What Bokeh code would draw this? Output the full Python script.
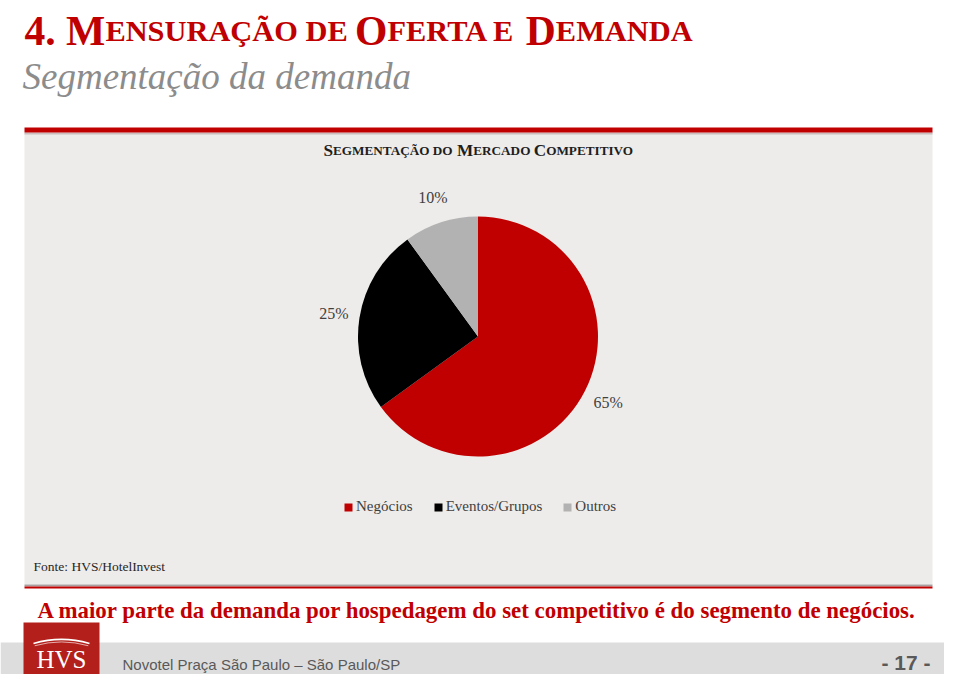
import math
from bokeh.plotting import figure
from bokeh.models import Range1d, ColumnDataSource
from bokeh.core.properties import value
from bokeh.embed import file_html
from bokeh.resources import INLINE

# ---------------- data ----------------
categories = ["Negócios", "Eventos/Grupos", "Outros"]
shares = [65, 25, 10]
slice_colors = ["#C00000", "#000000", "#B2B2B2"]

page_title = "4. Mensuração de Oferta e Demanda"
page_subtitle = "Segmentação da demanda"
chart_title = "Segmentação do Mercado Competitivo"
source_note = "Fonte: HVS/HotelInvest"
conclusion = "A maior parte da demanda por hospedagem do set competitivo é do segmento de negócios."
footer_text = "Novotel Praça São Paulo – São Paulo/SP"
page_number = "- 17 -"
logo_text = "HVS"

# ---------------- helpers ----------------
W, H = 944, 674


def Y(py):
    return 690 - py


# Times/Liberation Serif Bold advance widths (per 1000 em), used to lay out small caps
TB = {' ': 250, '.': 250, '4': 500, 'A': 722, 'C': 722, 'D': 722, 'E': 667, 'F': 611,
      'G': 778, 'I': 389, 'M': 944, 'N': 722, 'O': 778, 'P': 611, 'R': 722, 'S': 556,
      'T': 667, 'U': 722, 'V': 722, 'Ç': 722, 'Ã': 722}


def runs(text):
    out = []
    for ch in text:
        big = not ch.islower() and ch != ' '
        if ch == ' ' and out:
            big = out[-1][1]
        if out and out[-1][1] == big:
            out[-1][0] += ch.upper()
        else:
            out.append([ch.upper(), big])
    return out


def sc_width(text, big, small):
    w = 0
    for s, b in runs(text):
        w += sum(TB.get(c, 600) for c in s) * (big if b else small) / 1000
    return w


def sc_layout(text, x0, big, small):
    xs, ts, fs = [], [], []
    x = x0
    for s, b in runs(text):
        size = big if b else small
        xs.append(x)
        ts.append(s)
        fs.append(f"{size:.1f}px")
        x += sum(TB.get(c, 600) for c in s) * size / 1000
    return xs, ts, fs


p = figure(width=W, height=H, output_backend="svg", toolbar_location=None,
           x_range=Range1d(0, W), y_range=Range1d(690 - H, 690),
           x_axis_location=None, y_axis_location=None, min_border=0)
p.grid.visible = False
p.outline_line_color = None
p.background_fill_color = "white"
p.border_fill_color = "white"

SERIF = value("Liberation Serif")
SANS = value("Liberation Sans")

# ---------------- page title ----------------
ratio = 0.73
target = 668
unit = sc_width(page_title, 1.0 / ratio, 1.0)
small = target / unit
big = small / ratio
xs, ts, fs = sc_layout(page_title, 24, big, small)
p.text(x="x", y="y", text="t", text_font_size="fs",
       source=ColumnDataSource(dict(x=xs, y=[Y(30)] * len(xs), t=ts, fs=fs)),
       text_font=SERIF, text_font_style="bold", text_color="#C00000",
       text_baseline="alphabetic", text_align="left")

p.text(x=[22], y=[Y(76)], text=[page_subtitle], text_font=SERIF,
       text_font_style="italic", text_font_size="37px", text_color="#8C8C8C",
       text_baseline="alphabetic", text_align="left")

# ---------------- chart panel ----------------
p.quad(left=[24], right=[932], top=[Y(132)], bottom=[Y(584)],
       fill_color="#EEECEA", line_color=None)
p.quad(left=[24], right=[932], top=[Y(134)], bottom=[Y(132)],
       fill_color="#CBBDBD", line_color=None)
p.quad(left=[24], right=[932], top=[Y(127)], bottom=[Y(132)],
       fill_color="#C00000", line_color=None)
p.quad(left=[24], right=[932], top=[Y(584)], bottom=[Y(586)],
       fill_color="#A8A0A0", line_color=None)
p.quad(left=[24], right=[932], top=[Y(586)], bottom=[Y(588)],
       fill_color="#C00000", line_color=None)

# chart title in small caps, centred
ratio2 = 0.77
tw = 310
unit2 = sc_width(chart_title, 1.0 / ratio2, 1.0)
small2 = tw / unit2
big2 = small2 / ratio2
xs2, ts2, fs2 = sc_layout(chart_title, 478 - tw / 2, big2, small2)
p.text(x="x", y="y", text="t", text_font_size="fs",
       source=ColumnDataSource(dict(x=xs2, y=[Y(150)] * len(xs2), t=ts2, fs=fs2)),
       text_font=SERIF, text_font_style="bold", text_color="#1E1E1E",
       text_baseline="alphabetic", text_align="left")

# ---------------- pie ----------------
cx, cy, R = 477.5, Y(336), 120
starts, ends, mids = [], [], []
cum = 90.0
for s in shares:
    a = s / sum(shares) * 360.0
    ends.append(math.radians(cum))
    starts.append(math.radians(cum - a))
    mids.append(math.radians(cum - a / 2))
    cum -= a

pie_src = ColumnDataSource(dict(cat=categories, start=starts, end=ends,
                                color=slice_colors))
p.wedge(x=cx, y=cy, radius=R, start_angle="start", end_angle="end",
        direction="anticlock", fill_color="color", line_color=None,
        source=pie_src, legend_field="cat")

rl = R + 26
lab_src = ColumnDataSource(dict(
    x=[cx + rl * math.cos(m) for m in mids],
    y=[cy + rl * math.sin(m) for m in mids],
    t=[f"{s}%" for s in shares]))
p.text(x="x", y="y", text="t", source=lab_src, text_font=SERIF,
       text_font_size="16px", text_color="#404040",
       text_align="center", text_baseline="middle")

lg = p.legend[0]
lg.location = (343, 690 - 515 - (690 - H))
lg.orientation = "horizontal"
lg.padding = 0
lg.margin = 0
lg.spacing = 20
lg.glyph_width = 10
lg.glyph_height = 10
lg.label_standoff = 3
lg.label_height = 16
lg.label_text_font = "Liberation Serif"
lg.label_text_font_size = "15px"
lg.label_text_color = "#404040"
lg.background_fill_alpha = 0
lg.border_line_color = None

# source note
p.text(x=[33], y=[Y(566)], text=[source_note], text_font=SERIF,
       text_font_size="13.5px", text_color="#262626",
       text_baseline="alphabetic", text_align="left")

# conclusion
p.text(x=[37], y=[Y(610)], text=[conclusion], text_font=SERIF,
       text_font_style="bold", text_font_size="22.9px", text_color="#C00000",
       text_baseline="alphabetic", text_align="left")

# ---------------- footer ----------------
p.quad(left=[0], right=[960], top=[Y(642)], bottom=[Y(700)],
       fill_color="#DDDDDD", line_color=None)
p.quad(left=[23], right=[99], top=[Y(622)], bottom=[Y(700)],
       fill_color="#B3201B", line_color=None)
p.text(x=[61], y=[Y(659)], text=[logo_text], text_font=SERIF,
       text_font_size="25px", text_color="white",
       text_baseline="alphabetic", text_align="center")
half = math.asin(28 / 100)
p.arc(x=[61], y=[Y(739)], radius=100, start_angle=math.pi / 2 - half,
      end_angle=math.pi / 2 + half, line_color="white", line_width=1.6)
p.arc(x=[61], y=[Y(739)], radius=97.5, start_angle=math.pi / 2 - half * 0.98,
      end_angle=math.pi / 2 + half * 0.98, line_color="white", line_width=0.8,
      line_alpha=0.8)

p.text(x=[122], y=[Y(664)], text=[footer_text], text_font=SANS,
       text_font_size="15px", text_color="#595959",
       text_baseline="alphabetic", text_align="left")
p.text(x=[930], y=[Y(662)], text=[page_number], text_font=SANS,
       text_font_style="bold", text_font_size="21px", text_color="#595959",
       text_baseline="alphabetic", text_align="right")

open("out.html", "w").write(file_html(p, INLINE))
